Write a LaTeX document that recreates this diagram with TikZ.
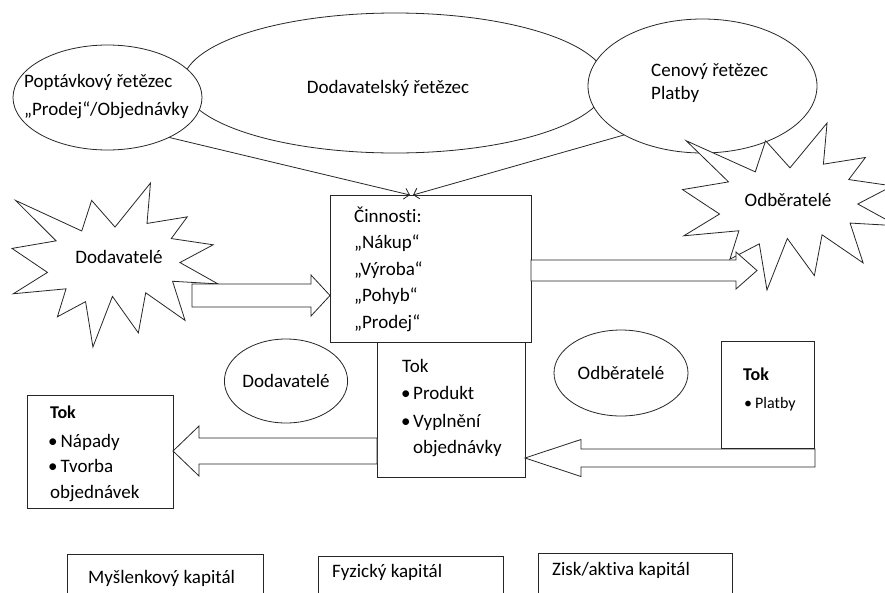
\documentclass[tikz,border=0pt]{standalone}
\usepackage{fontspec}
\setmainfont{Carlito}[Ligatures=NoCommon]
\usetikzlibrary{arrows.meta,calc,positioning,shapes.geometric}

% Word-like "explosion": #1,#2 top left corner, #3 width, #4 height
\newcommand{\explosion}[4]{%
  \begin{scope}[shift={(#1,#2)},xscale=#3/216,yscale=#4/216]
    \draw[outline,fill=white] (108,58)--(145.22,0)--(141.55,53.25)--(183.80,44.57)--(167.02,73.15)--(210.97,81.37)--(176.07,104.75)--(216,132.90)--(168.37,129.42)--(181.45,180.95)--(140.20,144.57)--(132.47,197.37)--(105.32,149.35)--(84.85,216)--(77.15,156.27)--(47.62,176.17)--(56.67,139.37)--(1.35,145.87)--(37.22,117.75)--(0,86.15)--(46.27,76.17)--(3.70,22.95)--(73.12,63.20)--(83.52,22.95)--cycle;
  \end{scope}}

% block arrow: #1 tail, #2 tip, #3 half shaft, #4 half head, #5 head length
\newcommand{\blockarrow}[5]{%
  \draw[outline,fill=white] let \p1=(#1), \p2=(#2) in
    (\x1,{\y1+#3}) -- ({\x2-(#5)},{\y1+#3}) -- ({\x2-(#5)},{\y1+#4}) -- (\x2,\y1)
    -- ({\x2-(#5)},{\y1-#4}) -- ({\x2-(#5)},{\y1-#3}) -- (\x1,{\y1-#3}) -- cycle;}

\begin{document}
\begin{tikzpicture}[x=1pt,y=-1pt,
    font=\fontsize{19}{23}\selectfont,
    outline/.style={draw=black!85,line width=0.8pt},
    chain/.style={outline,ellipse,fill=white,inner sep=0pt,outer sep=0pt},
    boxshape/.style={outline,rectangle,fill=white,anchor=north west,inner sep=0pt,outer sep=0pt},
    txt/.style={anchor=mid west,inner sep=0pt,yshift=-3pt},
    flowline/.style={outline,-{Straight Barb[length=5pt,width=11pt]}}]
    \useasboundingbox (0,0) rectangle (885,592);
    \clip (0,0) rectangle (885,592);
    % chains
    \node[chain,minimum width=424,minimum height=140] (dodchain) at (395,83) {};
    \node (dodchaintext) at (388,88) {Dodavatelský řetězec};
    \node[chain,minimum width=189,minimum height=105] (popt) at (107.5,97.5) {};
    \node[txt] (popt-1) at (24,82) {Poptávkový řetězec};
    \node[txt] (popt-2) at (24,110) {„Prodej“/Objednávky};
    \node[chain,minimum width=229,minimum height=134] (cen) at (702.5,86) {};
    \node[txt] (cen-1) at (651,71) {Cenový řetězec};
    \node[txt] (cen-2) at (651,94) {Platby};
    % activities
    \node[boxshape,minimum width=201,minimum height=147] (cinn) at (330,195) {};
    \foreach \word [count=\i] in {Činnosti:,„Nákup“,„Výroba“,„Pohyb“,„Prodej“}
      \node[txt] (cinn-\i) at (354,190.5+26.5*\i) {\word};
    \draw[flowline] (popt.-33) -- ([xshift=-20.5pt]cinn.north);
    \draw[flowline] (cen.212) -- ([xshift=-17.5pt]cinn.north);
    % suppliers and customers
    \explosion{12}{183}{206}{164}
    \node (dodstar) at (119,257) {Dodavatelé};
    \explosion{682.5}{123}{215}{167}
    \node (odbstar) at (788,200) {Odběratelé};
    \coordinate (a1) at (192,295.5);
    \blockarrow{a1}{cinn.west |- a1}{11.5pt}{20.5pt}{19pt}
    \coordinate (a2) at (757,270.5);
    \blockarrow{cinn.east |- a2}{a2}{10.5pt}{18.5pt}{21pt}
    % flows
    \node[boxshape,minimum width=148,minimum height=135] (tokprod) at (377,342) {};
    \node[txt] (tokprod-1) at (402,367) {Tok};
    \node[txt] (tokprod-2) at (401,394) {\makebox[12pt][l]{•}Produkt};
    \node[txt] (tokprod-3) at (401,422) {\makebox[12pt][l]{•}Vyplnění};
    \node[txt] (tokprod-4) at (413,448) {objednávky};
    \node[chain,minimum width=118,minimum height=84] (dodsmall) at (286,381) {Dodavatelé};
    \node[chain,minimum width=134,minimum height=86] (odbsmall) at (621,373) {Odběratelé};
    \node[boxshape,minimum width=93,minimum height=107] (platby) at (721,341) {};
    \node[txt,font=\fontsize{18}{22}\selectfont\bfseries] (platby-1) at (743,375) {Tok};
    \node[txt,font=\fontsize{16}{20}\selectfont] (platby-2) at (744,403) {\makebox[11pt][l]{•}Platby};
    \node[boxshape,minimum width=146,minimum height=113] (toklevy) at (27,395) {};
    \node[txt,font=\fontsize{18}{22}\selectfont\bfseries] (toklevy-1) at (50,413) {Tok};
    \node[txt] (toklevy-2) at (48,442) {\makebox[12.5pt][l]{•}Nápady};
    \node[txt] (toklevy-3) at (48,467) {\makebox[12.5pt][l]{•}Tvorba};
    \node[txt] (toklevy-4) at (50,493) {objednávek};
    \coordinate (a3) at (815,458);
    \blockarrow{a3}{tokprod.east |- a3}{9pt}{18.5pt}{-56pt}
    \coordinate (a4) at (300,451);
    \blockarrow{tokprod.west |- a4}{toklevy.east |- a4}{13pt}{25pt}{-26pt}
    % capitals
    \node[boxshape,minimum width=196,minimum height=60] (mysl) at (67,554) {};
    \node[txt] (mysl-1) at (88,578) {Myšlenkový kapitál};
    \node[boxshape,minimum width=185,minimum height=60] (fyz) at (318,556) {};
    \node[txt] (fyz-1) at (332,572) {Fyzický kapitál};
    \node[boxshape,minimum width=194,minimum height=60] (zisk) at (538,553) {};
    \node[txt] (zisk-1) at (552,570) {Zisk/aktiva kapitál};
\end{tikzpicture}
\end{document}
